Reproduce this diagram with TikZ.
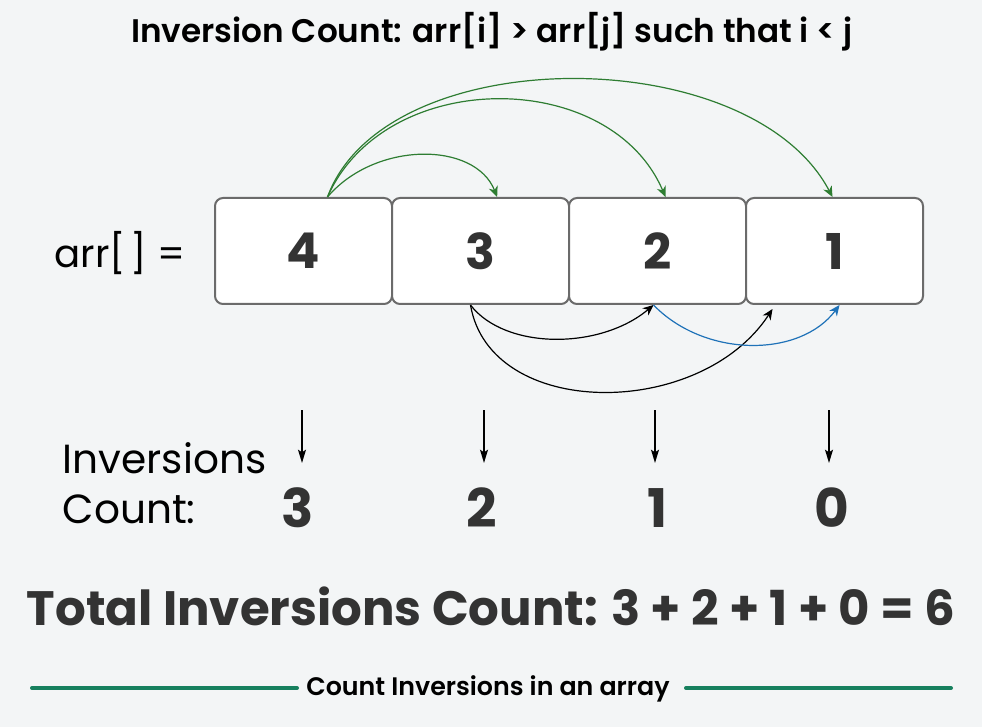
\documentclass[tikz,border=0pt]{standalone}
\usepackage{xcolor}
\usepackage{fontspec}
\setmainfont{Poppins}
\newfontfamily\semifont{Poppins SemiBold}
\usetikzlibrary{arrows.meta}

\begin{document}
\begin{tikzpicture}[x=0.75pt,y=-0.75pt,
  cell/.style={draw=boxgray,line width=1.5pt,fill=white,rounded corners=6pt,
    minimum width=132.75pt,minimum height=79.5pt,inner sep=0pt,text=numgray,
    font=\fontsize{37}{37}\selectfont\bfseries},
  cnt/.style={anchor=base,text=numgray,font=\fontsize{40}{40}\selectfont\bfseries},
  lbl/.style={anchor=base west,font=\fontsize{30.5}{30.5}\selectfont},
  arc/.style={line width=0.9pt,-{Stealth[length=8pt,width=7pt,inset=2.5pt]}},
  down/.style={line width=1.1pt,-{Stealth[length=10pt,width=6pt,inset=2pt]}}]
  \definecolor{bggray}{HTML}{F3F5F6}
  \colorlet{boxgray}{black!58}
  \colorlet{numgray}{black!80}
  \definecolor{arcgreen}{HTML}{2E7D32}
  \definecolor{arcblue}{HTML}{1F72B8}
  \definecolor{footgreen}{HTML}{17805E}
  \fill[bggray] (0,0) rectangle (982,727);
  \node[anchor=base,font=\semifont\fontsize{24.5}{24.5}\selectfont] (title) at (492,43)
    {Inversion Count: arr[i] > arr[j] such that i < j};
  \node[anchor=west,font=\fontsize{29}{29}\selectfont] (arr) at (50,253) {arr[\kern0.12em] =};
  \foreach \v [count=\i] in {4,3,2,1}{
    \node[cell] (b\i) at ({303.5+177*(\i-1)},251) {\v};
  }
  \coordinate (g0) at ([xshift=18pt]b1.north);
  \draw[arc,arcgreen] (g0) .. controls (375,141) and (475,141) .. ([xshift=12.5pt]b2.north);
  \draw[arc,arcgreen] (g0) .. controls (385,67) and (610,67) .. ([xshift=6pt]b3.north);
  \draw[arc,arcgreen] (g0) .. controls (385,40) and (750,40) .. ([xshift=-1.5pt]b4.north);
  \coordinate (k0) at ([xshift=-7.5pt]b2.south);
  \coordinate (k1) at ([xshift=-3pt]b3.south);
  \draw[arc,black] (k0) .. controls (505,350) and (600,350) .. (k1);
  \draw[arc,black] (k0) .. controls (490,420) and (700,420) .. ([xshift=-46.5pt,yshift=-3pt]b4.south);
  \draw[arc,arcblue] (k1) .. controls (705,358) and (800,358) .. ([xshift=3.75pt]b4.south);
  \node[lbl] (inv) at (58,473) {Inversions};
  \node[lbl] (cntlbl) at (58,523) {Count:};
  \foreach \v/\x/\t [count=\i] in {3/298/302,2/482/484,1/658/655,0/832/829}{
    \coordinate (t\i) at (\t,410);
    \draw[down] (t\i) -- ++(0,53);
    \node[cnt] (c\i) at (\x,527) {\v};
  }
  \node[anchor=base,text=numgray,font=\fontsize{36.2}{36.2}\selectfont\bfseries] (total) at (491,625)
    {Total Inversions Count: 3 + 2 + 1 + 0 = 6};
  \node[anchor=base,font=\semifont\fontsize{19}{19}\selectfont] (foot) at (488,695)
    {Count Inversions in an array};
  \draw[footgreen,line width=3pt,line cap=round] (32,688) -- (297,688);
  \draw[footgreen,line width=3pt,line cap=round] (686,688) -- (951,688);
\end{tikzpicture}
\end{document}
